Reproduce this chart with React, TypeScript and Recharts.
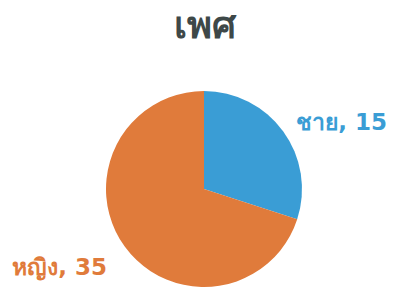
import { PieChart, Pie, Cell } from 'recharts';

const genders = ['ชาย', 'หญิง'];
const counts = [15, 35];
const colors = ['#3a9dd5', '#e07b3b'];
const title = 'เพศ';

const data = genders.map((name, i) => ({ name, value: counts[i] }));

const RADIAN = Math.PI / 180;

function renderLabel(props: any) {
  const { cx, cy, midAngle, outerRadius, index, name, value } = props;
  const r = outerRadius + (index === 0 ? 16 : 22);
  const cos = Math.cos(-midAngle * RADIAN);
  const sin = Math.sin(-midAngle * RADIAN);
  const x = cx + r * cos;
  const y = cy + r * sin + (index === 0 ? 0 : 7);
  return (
    <text
      x={x}
      y={y}
      fill={colors[index]}
      textAnchor={cos >= 0 ? 'start' : 'end'}
      dominantBaseline="central"
      fontSize={23}
      fontWeight="bold"
      fontFamily="Tahoma, 'DejaVu Sans', sans-serif"
    >
      {`${name}, ${value}`}
    </text>
  );
}

export default function App() {
  return (
    <div style={{ position: 'absolute', left: 0, top: 0, width: 393, height: 289, background: '#fff' }}>
      <div
        style={{
          position: 'absolute',
          left: 0,
          top: -6,
          width: 410,
          textAlign: 'center',
          fontSize: 38,
          fontWeight: 'bold',
          color: '#3e4848',
          fontFamily: "Tahoma, 'DejaVu Sans', sans-serif",
        }}
      >
        {title}
      </div>
      <PieChart width={393} height={289} margin={{ top: 0, right: 0, bottom: 0, left: 0 }}>
        <Pie
          data={data}
          dataKey="value"
          nameKey="name"
          cx={204}
          cy={189}
          outerRadius={98}
          startAngle={90}
          endAngle={-270}
          stroke="none"
          label={renderLabel}
          labelLine={false}
          isAnimationActive={false}
        >
          {data.map((d, i) => (
            <Cell key={d.name} fill={colors[i]} />
          ))}
        </Pie>
      </PieChart>
    </div>
  );
}
